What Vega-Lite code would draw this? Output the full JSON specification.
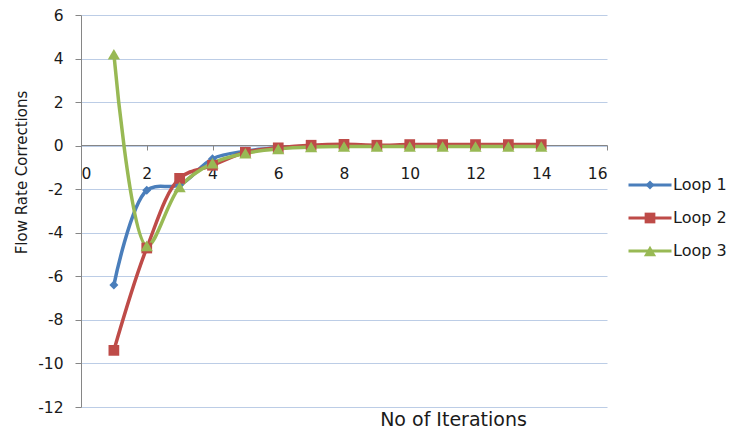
{
  "$schema": "https://vega.github.io/schema/vega-lite/v6.json",
  "width": 526,
  "height": 392,
  "autosize": "none",
  "padding": {"left": 81, "top": 15, "right": 122, "bottom": 22},
  "background": "white",
  "config": {
    "font": "DejaVu Sans",
    "view": {"stroke": null},
    "axis": {"domainColor": "#868686", "tickColor": "#868686", "labelColor": "#1a1a1a", "titleFontWeight": "normal", "titleColor": "#1a1a1a", "labelFont": "DejaVu Sans", "titleFont": "DejaVu Sans"},
    "legend": {"labelFont": "DejaVu Sans"}
  },
  "data": {
    "values": [
      {"series": "Loop 1", "x": 1, "y": -6.4},
      {"series": "Loop 1", "x": 2, "y": -2.05},
      {"series": "Loop 1", "x": 3, "y": -1.8},
      {"series": "Loop 1", "x": 4, "y": -0.6},
      {"series": "Loop 1", "x": 5, "y": -0.25},
      {"series": "Loop 1", "x": 6, "y": -0.1},
      {"series": "Loop 1", "x": 7, "y": -0.03},
      {"series": "Loop 1", "x": 8, "y": 0},
      {"series": "Loop 1", "x": 9, "y": 0},
      {"series": "Loop 1", "x": 10, "y": 0},
      {"series": "Loop 1", "x": 11, "y": 0},
      {"series": "Loop 1", "x": 12, "y": 0},
      {"series": "Loop 1", "x": 13, "y": 0},
      {"series": "Loop 1", "x": 14, "y": 0},
      {"series": "Loop 2", "x": 1, "y": -9.4},
      {"series": "Loop 2", "x": 2, "y": -4.7},
      {"series": "Loop 2", "x": 3, "y": -1.5},
      {"series": "Loop 2", "x": 4, "y": -0.9},
      {"series": "Loop 2", "x": 5, "y": -0.3},
      {"series": "Loop 2", "x": 6, "y": -0.1},
      {"series": "Loop 2", "x": 7, "y": 0.02},
      {"series": "Loop 2", "x": 8, "y": 0.06},
      {"series": "Loop 2", "x": 9, "y": 0.02},
      {"series": "Loop 2", "x": 10, "y": 0.05},
      {"series": "Loop 2", "x": 11, "y": 0.05},
      {"series": "Loop 2", "x": 12, "y": 0.05},
      {"series": "Loop 2", "x": 13, "y": 0.05},
      {"series": "Loop 2", "x": 14, "y": 0.05},
      {"series": "Loop 3", "x": 1, "y": 4.2},
      {"series": "Loop 3", "x": 2, "y": -4.6},
      {"series": "Loop 3", "x": 3, "y": -1.9},
      {"series": "Loop 3", "x": 4, "y": -0.8},
      {"series": "Loop 3", "x": 5, "y": -0.35},
      {"series": "Loop 3", "x": 6, "y": -0.15},
      {"series": "Loop 3", "x": 7, "y": -0.06},
      {"series": "Loop 3", "x": 8, "y": -0.04},
      {"series": "Loop 3", "x": 9, "y": -0.04},
      {"series": "Loop 3", "x": 10, "y": -0.04},
      {"series": "Loop 3", "x": 11, "y": -0.04},
      {"series": "Loop 3", "x": 12, "y": -0.04},
      {"series": "Loop 3", "x": 13, "y": -0.04},
      {"series": "Loop 3", "x": 14, "y": -0.04}
    ]
  },
  "encoding": {
    "x": {
      "field": "x", "type": "quantitative",
      "scale": {"domain": [0, 16], "nice": false, "zero": false},
      "axis": {
        "title": "No of Iterations", "values": [0, 2, 4, 6, 8, 10, 12, 14, 16],
        "labelFontSize": 15.5,
        "grid": false, "offset": -262, "tickSize": 5, "labelPadding": 16, "titleFontSize": 19,
        "titleX": 372, "titleY": 274, "titleAlign": "center", "titleBaseline": "middle", "titleAnchor": null
      }
    },
    "y": {
      "field": "y", "type": "quantitative",
      "scale": {"domain": [-12, 6], "nice": false, "zero": false},
      "axis": {
        "title": "Flow Rate Corrections", "values": [-12, -10, -8, -6, -4, -2, 0, 2, 4, 6],
        "labelFontSize": 15.5,
        "labelExpr": "replace(datum.label, '\u2212', '-')", "titleFontSize": 15,
        "grid": true, "gridColor": "#bccde6", "gridWidth": 1, "tickSize": 6, "labelPadding": 12,
        "titleX": -60, "titleY": 157, "titleAngle": -90, "titleAlign": "center", "titleBaseline": "middle", "titleAnchor": null
      }
    }
  },
  "layer": [
    {
      "mark": {"type": "line", "interpolate": "catmull-rom", "strokeWidth": 3.5},
      "encoding": {
        "color": {
          "field": "series", "type": "nominal",
          "scale": {"domain": ["Loop 1", "Loop 2", "Loop 3"], "range": ["#4a7ebb", "#be4b48", "#98b954"]},
          "legend": {
            "title": null, "orient": "none", "legendX": 561, "legendY": 162, "padding": 0,
            "symbolType": "M-4.3,0H4.3", "symbolSize": 100, "symbolStrokeWidth": 3,
            "labelOpacity": 0, "labelFontSize": 16, "labelOffset": 15, "rowPadding": 17
          }
        }
      }
    },
    {
      "mark": {"type": "point", "filled": true, "opacity": 1},
      "encoding": {
        "color": {
          "field": "series", "type": "nominal",
          "scale": {"domain": ["Loop 1", "Loop 2", "Loop 3"], "range": ["#4a7ebb", "#be4b48", "#98b954"]},
          "legend": {
            "title": null, "orient": "none", "legendX": 561, "legendY": 162, "padding": 0,
            "symbolSize": 100, "symbolStrokeWidth": 0, "symbolOpacity": 1,
            "labelFontSize": 16, "labelOffset": 15, "rowPadding": 17, "labelColor": "#1a1a1a"
          }
        },
        "shape": {
          "field": "series", "type": "nominal",
          "scale": {"domain": ["Loop 1", "Loop 2", "Loop 3"], "range": ["diamond", "square", "triangle-up"]},
          "legend": {
            "title": null, "orient": "none", "legendX": 561, "legendY": 162, "padding": 0,
            "symbolSize": 100, "symbolStrokeWidth": 0, "symbolOpacity": 1,
            "labelFontSize": 16, "labelOffset": 15, "rowPadding": 17, "labelColor": "#1a1a1a"
          }
        },
        "size": {
          "field": "series", "type": "nominal",
          "scale": {"domain": ["Loop 1", "Loop 2", "Loop 3"], "range": [80, 150, 140]},
          "legend": null
        }
      }
    }
  ],
  "resolve": {"scale": {"color": "independent", "shape": "independent", "size": "independent"}, "legend": {"color": "independent", "shape": "independent"}}
}
